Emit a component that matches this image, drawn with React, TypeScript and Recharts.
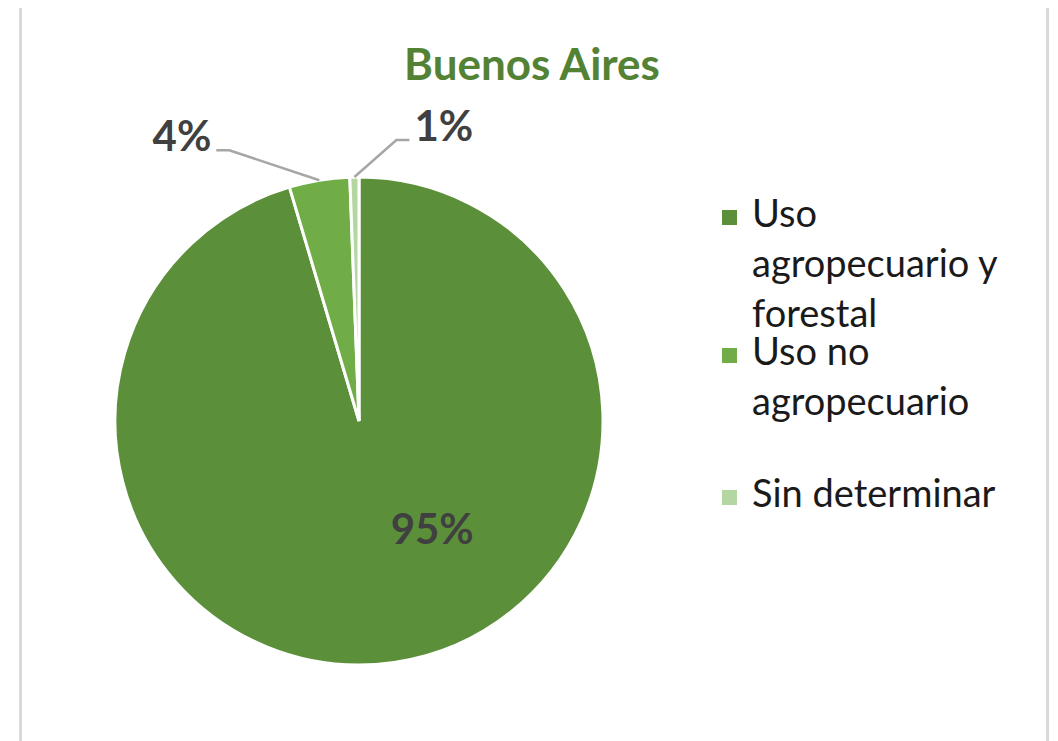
import React from 'react';
import { PieChart, Pie, Cell, Legend } from 'recharts';

const categories = ['Uso agropecuario y forestal', 'Uso no agropecuario', 'Sin determinar'];
const shares = [95.4, 4.0, 0.6];
const colors = ['#5B8F3A', '#70AD47', '#B4D6A0'];

const data = categories.map((name, i) => ({ name, value: shares[i] }));

const RADIAN = Math.PI / 180;
const FONT = 'Lato, "Open Sans", sans-serif';

// leader line offsets for the small slices (Excel puts 4% left, 1% right)
const leader = [null, { dx: -90, dy: -30, hx: -13 }, { dx: 42, dy: -37, hx: 13 }];

const renderLabel = (props: any) => {
  const { cx, cy, midAngle, outerRadius, percent, index } = props;
  const text = `${Math.round(percent * 100)}%`;
  if (index === 0) {
    return (
      <text x={cx + outerRadius * 0.3} y={cy + outerRadius * 0.505} textAnchor="middle"
        fill="#404040" fontSize={42} fontWeight="bold" fontFamily={FONT}>
        {text}
      </text>
    );
  }
  const l = leader[index]!;
  const sx = cx + outerRadius * Math.cos(-midAngle * RADIAN);
  const sy = cy + outerRadius * Math.sin(-midAngle * RADIAN);
  const mx = sx + l.dx;
  const my = sy + l.dy;
  const ex = mx + l.hx;
  return (
    <g>
      <polyline points={`${sx},${sy} ${mx},${my} ${ex},${my}`} fill="none" stroke="#A6A6A6" strokeWidth={2.5} />
      <text x={ex + (l.hx > 0 ? 5 : -5)} y={my + 1} textAnchor={l.hx > 0 ? 'start' : 'end'}
        fill="#404040" fontSize={42} fontWeight="bold" fontFamily={FONT}>
        {text}
      </text>
    </g>
  );
};

const itemTops = [179, 317, 459];

const renderLegend = () => (
  <div style={{ position: 'relative', fontFamily: FONT }}>
    {categories.map((c, i) => (
      <div key={c} style={{ position: 'absolute', left: 0, top: itemTops[i], width: 320 }}>
        <div style={{ position: 'absolute', left: 0, top: 23, width: 15, height: 15, background: colors[i] }} />
        <div style={{ marginLeft: 30, width: 265, fontSize: 38, lineHeight: '50px', color: '#1a1a1a' }}>{c}</div>
      </div>
    ))}
  </div>
);

export default function App() {
  return (
    <div style={{ marginLeft: 11, marginTop: -3, width: 1030, height: 760, border: '3px solid #d9d9d9', boxSizing: 'border-box', position: 'relative', background: '#fff' }}>
      <div style={{ position: 'absolute', left: 0, width: 1020, top: 33, textAlign: 'center', fontFamily: FONT, fontWeight: 'bold', fontSize: 44, lineHeight: 1, color: '#548235' }}>
        Buenos Aires
      </div>
      <PieChart width={1024} height={750} margin={{ top: 0, right: 0, bottom: 0, left: 0 }}>
        <Pie data={data} dataKey="value" nameKey="name" cx={337} cy={413} outerRadius={244}
          startAngle={90} endAngle={-270} stroke="#fff" strokeWidth={3}
          label={renderLabel} labelLine={false} isAnimationActive={false}>
          {data.map((d, i) => <Cell key={d.name} fill={colors[i]} />)}
        </Pie>
        <Legend content={renderLegend} wrapperStyle={{ position: 'absolute', left: 700, top: 0, width: 330, height: 0 }} />
      </PieChart>
    </div>
  );
}
